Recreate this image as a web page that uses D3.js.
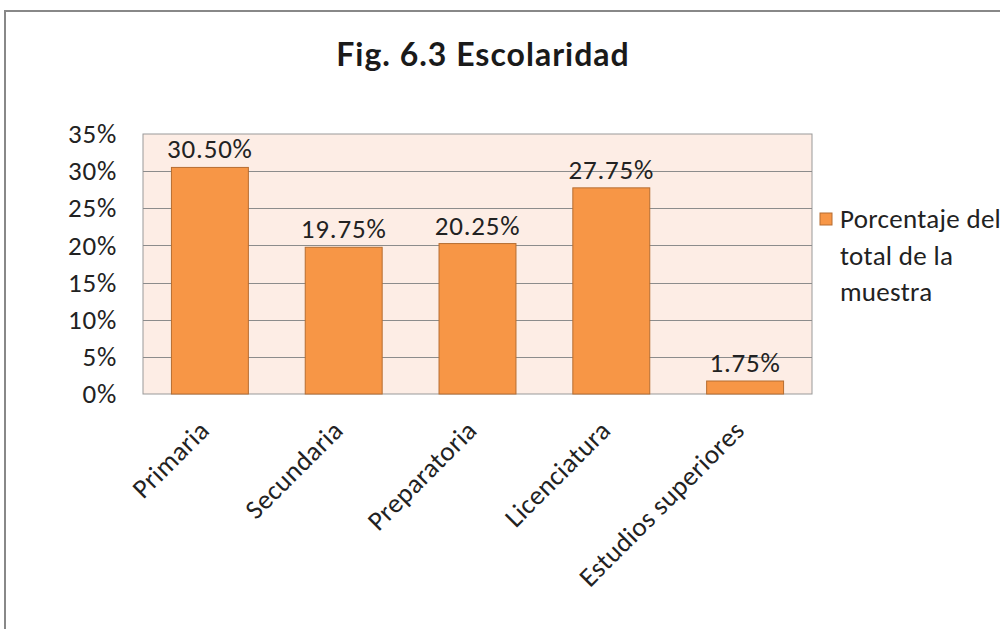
<!DOCTYPE html>
<html><head><meta charset="utf-8">
<script src="https://cdn.jsdelivr.net/npm/d3@7"></script>
<style>body{margin:0;background:#fff}svg{display:block}</style>
</head><body>
<script>
const categories = ["Primaria","Secundaria","Preparatoria","Licenciatura","Estudios superiores"];
const values = [30.50, 19.75, 20.25, 27.75, 1.75];
const valueLabels = ["30.50%","19.75%","20.25%","27.75%","1.75%"];
const yTicks = [0,5,10,15,20,25,30,35];
const seriesName = ["Porcentaje del","total de la","muestra"];
const title = "Fig. 6.3 Escolaridad";

const W=1000,H=629;
const svg=d3.select("body").append("svg").attr("width",W).attr("height",H);
const font="Carlito, Calibri, 'Open Sans', sans-serif";
const fs=27, ls=0.8;

// outer frame
svg.append("rect").attr("x",5).attr("y",11).attr("width",W+10).attr("height",H+10)
  .attr("fill","#fff").attr("stroke","#888").attr("stroke-width",2);

svg.append("text").attr("x",483).attr("y",66).attr("text-anchor","middle")
  .attr("font-family","'Century Gothic', Lato, sans-serif").attr("font-weight","bold")
  .attr("font-size",32).attr("letter-spacing",1).attr("fill","#1a1a1a").text(title);

const L=143,R=812,T=134,B=394;
const x=d3.scaleBand().domain(categories).range([L,R]).paddingInner(0.425).paddingOuter(0.2125);
const y=d3.scaleLinear().domain([0,35]).range([B,T]);

svg.append("rect").attr("x",L).attr("y",T).attr("width",R-L).attr("height",B-T)
  .attr("fill","#fdede5").attr("stroke","#999").attr("stroke-width",1);

svg.append("g").selectAll("line").data(yTicks.slice(1,-1)).join("line")
  .attr("x1",L).attr("x2",R).attr("y1",d=>Math.round(y(d))+0.5).attr("y2",d=>Math.round(y(d))+0.5)
  .attr("stroke","#8c8c8c").attr("stroke-width",1);

const yAxis=svg.append("g").attr("transform",`translate(${L},0)`)
  .call(d3.axisLeft(y).tickValues(yTicks).tickFormat(d=>d+"%").tickSize(0).tickPadding(26));
yAxis.select(".domain").remove();
yAxis.selectAll("text").attr("font-family",font).attr("font-size",fs).attr("letter-spacing",ls).attr("fill","#222");

svg.append("g").selectAll("rect").data(values).join("rect")
  .attr("x",(d,i)=>x(categories[i])).attr("width",x.bandwidth())
  .attr("y",d=>y(d)).attr("height",d=>B-y(d))
  .attr("fill","#f79646").attr("stroke","#b66d31").attr("stroke-width",1);

svg.append("g").selectAll("text").data(values).join("text")
  .attr("x",(d,i)=>x(categories[i])+x.bandwidth()/2).attr("y",d=>y(d)-9)
  .attr("text-anchor","middle").attr("font-family",font).attr("font-size",fs).attr("letter-spacing",ls).attr("fill","#222")
  .text((d,i)=>valueLabels[i]);

const xAxis=svg.append("g").attr("transform",`translate(0,${B})`)
  .call(d3.axisBottom(x).tickSize(0).tickPadding(0));
xAxis.select(".domain").remove();
xAxis.selectAll("text").attr("font-family",font).attr("font-size",fs).attr("letter-spacing",0.4).attr("fill","#222")
  .attr("text-anchor","end").attr("dy",0)
  .attr("transform","translate(1,38) rotate(-45)");

// legend
svg.append("rect").attr("x",820).attr("y",213).attr("width",12).attr("height",12)
  .attr("fill","#f79646").attr("stroke","#b66d31");
svg.append("g").selectAll("text").data(seriesName).join("text")
  .attr("x",840).attr("y",(d,i)=>228+i*36.5)
  .attr("font-family",font).attr("font-size",fs).attr("letter-spacing",0.3).attr("fill","#222").text(d=>d);
</script>
</body></html>
